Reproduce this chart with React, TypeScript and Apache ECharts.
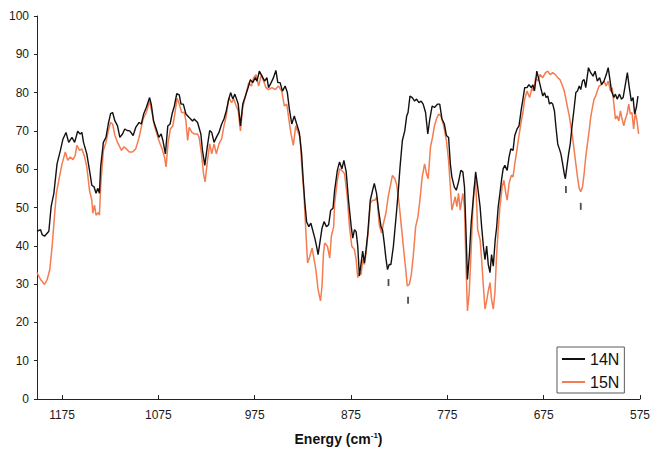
import { useEffect, useRef } from "react";
import * as echarts from "echarts";

const seriesNames = ["14N", "15N"];

const spectrum14N: [number, number][] = [
  [1201, 43.8], [1197.3, 44.2], [1195.6, 42.9], [1193.2, 42.5], [1188.7, 43.8], [1186.3, 50.3], [1183.5, 53.7],
  [1180.2, 61.4], [1176.7, 64.9], [1174, 67.9], [1170.9, 69.6], [1168.1, 67], [1164.7, 68.3], [1161.9, 67],
  [1158.8, 69.9], [1156.2, 69.2], [1154.4, 69.6], [1152.7, 67], [1149.3, 64], [1145.9, 58.8], [1144.1, 55.8],
  [1141.8, 55.4], [1139.7, 53.7], [1138, 55], [1136.2, 53.7], [1134.9, 60.6], [1132.1, 67], [1129.4, 68.3],
  [1127, 71.8], [1124.6, 74.5], [1122.5, 74.8], [1120.1, 72.6], [1117.4, 71.3], [1115, 68.3], [1112.2, 69.2],
  [1109.9, 70.5], [1107.4, 70.1], [1104.7, 70], [1101.2, 68.8], [1098.5, 70.9],
  [1095, 72.2], [1092.7, 71.8], [1090.3, 74.4], [1087.5, 76.1], [1084.1, 78.7], [1082.4, 77], [1080, 72.6],
  [1077.2, 70.5], [1074.5, 68.3], [1072.1, 69.2], [1070.3, 67.5], [1067.7, 64], [1065.2, 71.3], [1062.8, 71.8],
  [1060.8, 74.4], [1058.4, 76.5], [1055.9, 79.7], [1053.3, 79.4], [1051.5, 77], [1049.1, 77], [1046.4, 74.4],
  [1043, 73.5], [1039.5, 72.6], [1037.8, 73.1], [1034.3, 72.2], [1030.9, 69.2], [1029.2, 64.9], [1026.8, 61],
  [1024, 66.2], [1021.7, 70.1], [1019.6, 69.6], [1017.2, 67], [1014.8, 68.3], [1012.1, 69.6], [1009.3, 71.8],
  [1006.9, 73.1], [1004.5, 75.2], [1002.4, 77.8], [1000, 80], [997.7, 78.3], [995.6, 79.6],
  [992.1, 77], [989.8, 71.3], [987.4, 77], [984.6, 79.1], [981.8, 81.3], [979.5, 83.4], [977.1, 82.6],
  [974.3, 83.9], [972.6, 83], [970.2, 85.6], [967.4, 84.3], [964.7, 83], [962.3, 83.9], [960.6, 81.3],
  [957.9, 82.6], [955.5, 83.9], [953, 85.8], [951, 82.6], [948.6, 82.6], [946.2, 80.4], [943.4, 81.7],
  [941.1, 80], [939, 75.7], [936.5, 71.8], [933.9, 73.9], [931.4, 71.8], [928.7, 69.6], [926.3, 64],
  [924.6, 57.1], [922.9, 51.1], [921.1, 46.3], [918.8, 45], [916.7, 45.9], [914.9, 44.2], [912.6, 42],
  [910.8, 39.9], [909.2, 37.7], [907.4, 40.7], [905.1, 44.6], [903, 46.3], [900.5, 45], [898.2, 45.5],
  [896.1, 49.3], [893.7, 49.8],
  [892, 54.5], [889.2, 59.7], [886.9, 61.9], [884.5, 60.1], [882.4, 62.3], [880, 59.3], [877.6, 51.9],
  [874.8, 45], [873.2, 42], [871.4, 44.2], [869.7, 43.7], [868, 39.9], [866.3, 32.1], [864.5, 35.5],
  [862.9, 38.6], [861.1, 35.5], [859.4, 39], [857.7, 42.9], [855, 51.9], [852.6, 54.5], [850.8, 56.3],
  [848.5, 53.7], [846.4, 49.3], [843.9, 45], [842.3, 44.2], [840.5, 40.7], [838.8, 36.8], [837.1, 33.8],
  [835.4, 35.1], [833.6, 35.1], [831, 39.9], [828.5, 46.8], [826.1, 53.7], [824.1, 60.6], [821.7, 67.5],
  [819.2, 70], [817.2, 73.9], [815.8, 74.8], [813.8, 79.1], [811.4, 78.7], [809, 77.8], [806.9, 78.3],
  [804.5, 77.4], [802.2, 77.8], [800.1, 77], [797.6, 74.8], [795.3, 69.2], [793.2, 73.1], [790.8, 76.5],
  [788.4, 76.1],
  [785, 77], [782.9, 77], [780.6, 73.1], [778.1, 71.8], [776, 68.8], [773.7, 68.3], [771.9, 61.4],
  [770.3, 58], [767.8, 55.4], [765.7, 54.5], [763.4, 56.7], [761, 59.7], [758.9, 59.3], [757.2, 55.4],
  [755.8, 45], [754.1, 31.2], [752, 38.1], [750.3, 45.9], [747.9, 52.8], [745.6, 59.3], [743.5, 55.4],
  [741, 50.2], [739.4, 45], [737.6, 39.9], [735.9, 36.4], [734.2, 39.9], [732.5, 35.1], [730.7, 33],
  [729.1, 37.7], [727.3, 34.7], [725.3, 41.6], [723.9, 44.6], [722.2, 50.2], [720.4, 53.7], [718.8, 57.1],
  [717.1, 60.1], [715.3, 61], [712.9, 59.7], [710.9, 63.2], [709.1, 65.3], [706.8, 64.9], [705, 68.8],
  [702.6, 70.5], [700.6, 71.3], [698.2, 75.7], [696.5, 78.3], [694.7, 81.3], [692.3, 81.3], [690.3, 82.1],
  [687.9, 81.3], [686.2, 82], [684.5, 80.5],
  [682.1, 85.6], [680, 83.4], [677.6, 80.8], [675.9, 79.1], [674.1, 80], [672.5, 78.7], [670.7, 79.1],
  [669, 77], [667.3, 77.4], [665.6, 77], [663.8, 75.2], [662.2, 70.9], [660.4, 66.6], [658.7, 65.3],
  [657.1, 64], [655.3, 61.4], [653.6, 58.8], [652.5, 57.5], [650.9, 60.6], [649.1, 64], [647.4, 66.6],
  [645.7, 70.9], [643.3, 76.1], [641.6, 80], [639.9, 80.4], [638.1, 81.7], [636.5, 80.8], [634.7, 83],
  [633, 83.4], [631.3, 81.3], [628.5, 86.5], [626.2, 85.2], [623.7, 84.3], [621.6, 85.6], [619.3, 83],
  [616.9, 83.9], [614.9, 82.1], [612.4, 83], [610, 84.7], [608, 86.5], [606.2, 83.4], [604.6, 80.4],
  [602.1, 78.7], [600.5, 79.6], [598.7, 78.3], [596.3, 79.6], [594.3, 78.3], [592.5, 78.7], [590.2, 82.1],
  [588.1, 85.2], [586.1, 81.3], [584, 77.8], [582.2, 78.7], [580.5, 74.4], [578.8, 76.1], [577.1, 79.1],
];

const spectrum15N: [number, number][] = [
  [1201, 33], [1197.3, 31.2], [1193.2, 29.9], [1190.4, 31.2], [1187.7, 33.8], [1185.3, 39.9], [1182.9, 47.6],
  [1180.9, 53.7], [1178.4, 57.1], [1175, 61.4], [1171.6, 64.5], [1169.1, 62.3], [1166.5, 63.2], [1163.7, 62.5],
  [1161.3, 63.6], [1159.6, 66.2], [1156.8, 64.9], [1154.4, 65.3], [1152, 63.6], [1149.3, 60.6], [1146.5, 54.5],
  [1144.1, 51.9], [1143.1, 48.5], [1141.3, 50.6], [1139.7, 48], [1137.2, 48.7], [1136.2, 48], [1134.9, 55.4],
  [1132.1, 64.9], [1129.4, 67], [1127, 70], [1124.6, 72.2], [1122.5, 71.8], [1120.1, 68.8], [1117.4, 67],
  [1113.3, 64.9], [1110.9, 65.8], [1108.1, 65.3], [1105.3, 64.5], [1101.9, 64.5], [1098.5, 65.3],
  [1095, 68.3], [1090.9, 73.1], [1087.5, 74.8], [1084.1, 77.8], [1081.3, 74.4], [1079, 71.3], [1075.5, 68.3],
  [1073.1, 66.6], [1071.1, 65.3], [1068.7, 63.2], [1067, 60.6], [1064.9, 67], [1062.5, 70.5], [1060, 71.3],
  [1057.7, 74.8], [1055.6, 78.5], [1053.3, 77], [1050.8, 74.8], [1048.1, 74.8], [1046.4, 72.6], [1044.6, 67.5],
  [1043, 70.9], [1040.2, 69.6], [1037.8, 69.2], [1034.3, 69.2], [1032.7, 68.3], [1030.2, 64], [1028.1, 58.8],
  [1026.5, 56.7], [1024, 62.3], [1021.7, 66.6], [1019.6, 64], [1017.2, 66.6], [1014.8, 64], [1012.1, 66.6],
  [1009.3, 67.9], [1006.9, 71.3], [1004.5, 73.9], [1001.8, 78.7], [999, 77.4], [996.7, 78.3],
  [994.2, 76.5], [992.1, 75.2], [989.8, 70], [987.4, 76.1], [984.6, 79.1], [981.2, 82.6], [978.4, 81.7],
  [976.1, 83.9], [973.6, 84.7], [970.9, 81.7], [968.1, 84.7], [965.8, 83], [963.3, 81.3], [960.6, 80.8],
  [957.1, 81.3], [953.7, 80.8], [950.3, 81.7], [946.9, 80.4], [944.2, 76.5], [941.7, 77], [939.3, 72.6],
  [937.3, 69.2], [934.9, 66.2], [932.4, 71.3], [930.4, 70], [927.8, 68.3], [926.3, 61.4], [923.9, 53.7],
  [921.8, 43.3], [920.1, 35.5], [917.7, 37.3], [915.4, 39.4], [913.3, 36.4], [911.5, 33.8], [909.2, 28.6],
  [906.7, 25.6], [905.1, 29.5], [903.6, 38.1], [902.3, 40.7], [899.5, 39.9], [897.1, 36.8], [895.4, 42.5],
  [893, 45],
  [892, 51.1], [889.2, 57.1], [886.9, 60.1], [884.5, 59.7], [881.7, 58.8], [878.9, 52.8], [876.6, 45],
  [874.2, 39.9], [871.4, 39], [869.7, 36.4], [868, 31.7], [866.3, 33], [864.5, 32.5], [862.9, 36.4],
  [861.1, 35.1], [859.4, 38.1], [857, 44.2], [855, 51.1], [852.6, 51.9], [850.1, 51.9], [848.1, 52.8],
  [845.7, 45.5], [843.3, 43.3], [841.3, 45.9], [838.8, 48.5], [836.4, 52.8], [834.4, 55.4], [832, 58.4],
  [829.5, 57.5], [827.5, 55.8], [825.1, 51.1], [822.7, 45], [820.7, 39.9], [818.2, 33.8], [816.6, 29.5],
  [814.5, 29.9], [812.4, 32.5], [810.4, 37.3], [807.9, 45], [805.5, 47.6], [803.5, 51.9], [801.1, 58],
  [798.6, 61.4], [796.6, 58.8], [794.9, 57.5], [792.5, 65.8], [790.4, 68.3], [788.4, 71.3],
  [786.3, 73.1], [784, 74.4], [781.6, 73.9], [778.8, 71.3], [776, 67.5], [773.7, 62.3], [771.9, 55.4],
  [770.3, 49.3], [768.5, 51.1], [766.8, 52.8], [765.1, 50.2], [763.4, 53.7], [761.6, 49.3], [758.9, 53.7],
  [757.2, 50.2], [755.8, 36.4], [754.1, 23], [752.3, 27.8], [750.7, 36.4], [748.6, 49.3], [747.2, 55],
  [745.6, 57.1], [743.5, 44.2], [741, 41.6], [739.4, 36.4], [737.6, 29.5], [735.9, 23.5], [734.2, 25.6],
  [732.5, 28.2], [730.7, 30.4], [729.1, 26], [727.3, 23.5], [725.6, 27.8], [723.9, 37.3], [722.2, 44.2],
  [720.4, 50.2], [718.1, 55.4], [716.3, 57.1], [714.3, 53.7], [712.9, 51.9], [710.9, 56.3], [708.5, 58.4],
  [706.8, 58], [705, 61.4], [702.6, 65.3], [700.6, 68.8], [698.2, 72.6], [696.5, 74.8], [694.7, 78.3],
  [692.3, 80.4], [689.6, 78.7], [687.2, 81.3], [685.5, 80.4],
  [683.4, 83.9], [681, 83], [678.7, 84.7], [675.9, 83.9], [673.1, 85.2], [670.7, 85.6], [668.4, 84.7],
  [665.6, 85.2], [662.8, 84.7], [660.4, 83.9], [658.1, 83.4], [656, 82.1], [653.6, 80.4], [651.9, 78.3],
  [650.2, 76.1], [648.4, 73.9], [646.8, 71.3], [645, 68.3], [643.3, 64.9], [641.6, 61.4], [639.9, 58],
  [638.1, 55], [636.5, 54.1], [634.7, 55.4], [633, 58.8], [631.3, 63.2], [629.6, 66.6], [627.8, 70],
  [626.2, 73.5], [624.4, 76.1], [622.7, 78.3], [621, 79.1], [619.3, 80.4], [617.5, 81.7], [614.9, 82.1],
  [612.4, 83], [610, 81.7], [608, 83], [605.6, 80.4], [603.8, 81.3], [602.1, 77], [600.5, 73.1],
  [598.7, 73.9], [597, 72.6], [595.3, 75.2], [593.6, 73.1], [591.8, 71.3], [590.2, 73.1], [588.4, 74.4],
  [586.7, 77], [585, 74.4], [583.3, 74.8], [581.6, 70.5], [579.9, 74.8], [578.1, 72.6], [576.4, 69.2],
];

const markEnergy = [836.1, 815.8, 651.9, 636.5];
const markLevel = [30.4, 25.8, 54.7, 50.3];

const FONT = "'Liberation Sans', Arial, Helvetica, sans-serif";

export default function App() {
  const ref = useRef<HTMLDivElement>(null);
  useEffect(() => {
    if (!ref.current) return;
    const chart = echarts.init(ref.current, null, { renderer: "svg" });
    chart.setOption({
      animation: false,
      backgroundColor: "#ffffff",
      textStyle: { fontFamily: FONT },
      grid: { left: 37, right: 8, top: 16, bottom: 49, containLabel: false },
      legend: {
        data: seriesNames,
        orient: "vertical",
        left: 557,
        top: 347,
        padding: [4, 5, 3, 5],
        itemGap: 7,
        itemWidth: 23,
        itemHeight: 2,
        icon: "rect",
        borderColor: "#5a5a5a",
        borderWidth: 1,
        backgroundColor: "#ffffff",
        textStyle: { fontSize: 16, color: "#111", fontFamily: FONT },
      },
      xAxis: {
        type: "value",
        inverse: true,
        min: 575,
        max: 1201,
        interval: 100,
        name: "{a|Energy (cm}{s|-1}{a|)}",
        nameLocation: "middle",
        nameGap: 32,
        nameTextStyle: {
          rich: {
            a: { fontSize: 14, fontWeight: "bold", color: "#111", fontFamily: FONT, lineHeight: 16 },
            s: { fontSize: 8, fontWeight: "bold", color: "#111", fontFamily: FONT, verticalAlign: "top", lineHeight: 9 },
          },
        },
        splitLine: { show: false },
        axisLine: { show: true, onZero: false, lineStyle: { color: "#2a2222", width: 1 } },
        axisTick: { show: true, inside: true, length: 4, lineStyle: { color: "#2a2222" } },
        axisLabel: {
          showMaxLabel: false,
          fontSize: 12,
          color: "#1a1a1a",
          margin: 10,
          fontFamily: FONT,
          formatter: (v: number) => String(Math.round(v)),
        },
      },
      yAxis: {
        type: "value",
        min: 0,
        max: 100,
        interval: 10,
        splitLine: { show: false },
        axisLine: { show: true, lineStyle: { color: "#2a2222", width: 1 } },
        axisTick: { show: true, inside: false, length: 3, lineStyle: { color: "#2a2222" } },
        axisLabel: { fontSize: 12, color: "#1a1a1a", margin: 8, fontFamily: FONT },
      },
      series: [
        {
          name: "15N",
          type: "line",
          data: spectrum15N,
          symbol: "none",
          color: "#f47c50",
          lineStyle: { color: "#f47c50", width: 1.5 },
          z: 2,
        },
        {
          name: "14N",
          type: "line",
          data: spectrum14N,
          symbol: "none",
          color: "#141010",
          lineStyle: { color: "#141010", width: 1.4 },
          z: 3,
        },
        {
          name: "marks",
          type: "scatter",
          data: markEnergy.map((e, i) => [e, markLevel[i]]),
          symbol: "rect",
          symbolSize: [1.8, 7],
          itemStyle: { color: "#222" },
          silent: true,
          z: 4,
        },
      ],
    });
    return () => chart.dispose();
  }, []);
  return (
    <div
      ref={ref}
      style={{ position: "fixed", left: 0, top: 0, width: 653, height: 451 }}
    />
  );
}
